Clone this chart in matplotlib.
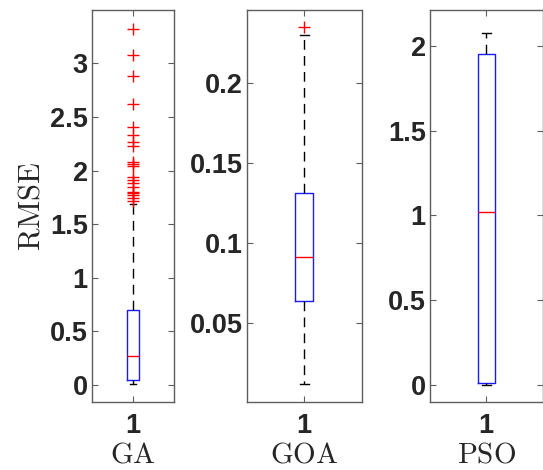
import matplotlib
matplotlib.use("Agg")
import matplotlib.pyplot as plt

plt.rcParams['mathtext.fontset'] = 'cm'

# ---- data ----
names = ["GA", "GOA", "PSO"]
q1 = [0.047, 0.0634, 0.010]
medians = [0.268, 0.0909, 1.020]
q3 = [0.700, 0.1315, 1.955]
whislo = [0.012, 0.0116, 0.003]
whishi = [1.690, 0.2303, 2.078]
fliers_ga = [3.32, 3.08, 2.88, 2.62, 2.41, 2.33, 2.27, 2.23, 2.08, 2.06, 2.04,
             1.94, 1.91, 1.88, 1.85, 1.80, 1.79, 1.77, 1.74, 1.72]
fliers_goa = [0.2351]
fliers_pso = []
fliers = [fliers_ga, fliers_goa, fliers_pso]
ylims = [(-0.159, 3.498), (0.0003, 0.246), (-0.10, 2.212)]
yticks = [[0, 0.5, 1, 1.5, 2, 2.5, 3],
          [0.05, 0.1, 0.15, 0.2],
          [0, 0.5, 1, 1.5, 2]]
yticklabels = [["0", "0.5", "1", "1.5", "2", "2.5", "3"],
               ["0.05", "0.1", "0.15", "0.2"],
               ["0", "0.5", "1", "1.5", "2"]]

W, H = 543, 470
fig = plt.figure(figsize=(W / 100, H / 100), dpi=100)

# axes boxes in pixels: (left, right)
px = [(92, 174), (247, 361.5), (430, 542.5)]
top_px, bot_px = 10, 402

spine_c = '#5e5e5e'
text_c = '#262626'

for i in range(3):
    l, r = px[i]
    ax = fig.add_axes([l / W, (H - bot_px) / H, (r - l) / W, (bot_px - top_px) / H])
    stats = [dict(med=medians[i], q1=q1[i], q3=q3[i],
                  whislo=whislo[i], whishi=whishi[i], fliers=fliers[i])]
    ax.bxp(stats, positions=[1], widths=0.155, capwidths=0.08,
           showfliers=True,
           boxprops=dict(color='#1a1aff', linewidth=1.0),
           medianprops=dict(color='#ff0000', linewidth=1.0),
           whiskerprops=dict(color='black', linewidth=1.0, linestyle=(0, (7, 4.5))),
           capprops=dict(color='black', linewidth=1.0),
           flierprops=dict(marker='+', markeredgecolor='#ff0000', markersize=8.5,
                           markeredgewidth=1.0, linestyle='none'))
    ax.set_xlim(0.5, 1.5)
    ax.set_ylim(*ylims[i])
    ax.set_xticks([1])
    ax.set_xticklabels(["1"])
    ax.set_yticks(yticks[i])
    ax.set_yticklabels(yticklabels[i])
    for lab in ax.get_xticklabels() + ax.get_yticklabels():
        lab.set_fontfamily('Liberation Sans')
        lab.set_fontweight('bold')
        lab.set_fontsize(19.5)
        lab.set_color(text_c)
    ax.tick_params(direction='in', length=4, width=0.8, color=spine_c,
                   top=True, right=True)
    ax.tick_params(axis='y', pad=3)
    ax.tick_params(axis='x', pad=8)
    for s in ax.spines.values():
        s.set_color(spine_c)
        s.set_linewidth(1.0)
    ax.set_xlabel(r'$\mathrm{' + names[i] + '}$', fontsize=21, color=text_c, labelpad=1)
    if i == 0:
        ax.set_ylabel(r'$\mathrm{RMSE}$', fontsize=22, color=text_c, labelpad=3)

fig.savefig("out.png", dpi=100)
